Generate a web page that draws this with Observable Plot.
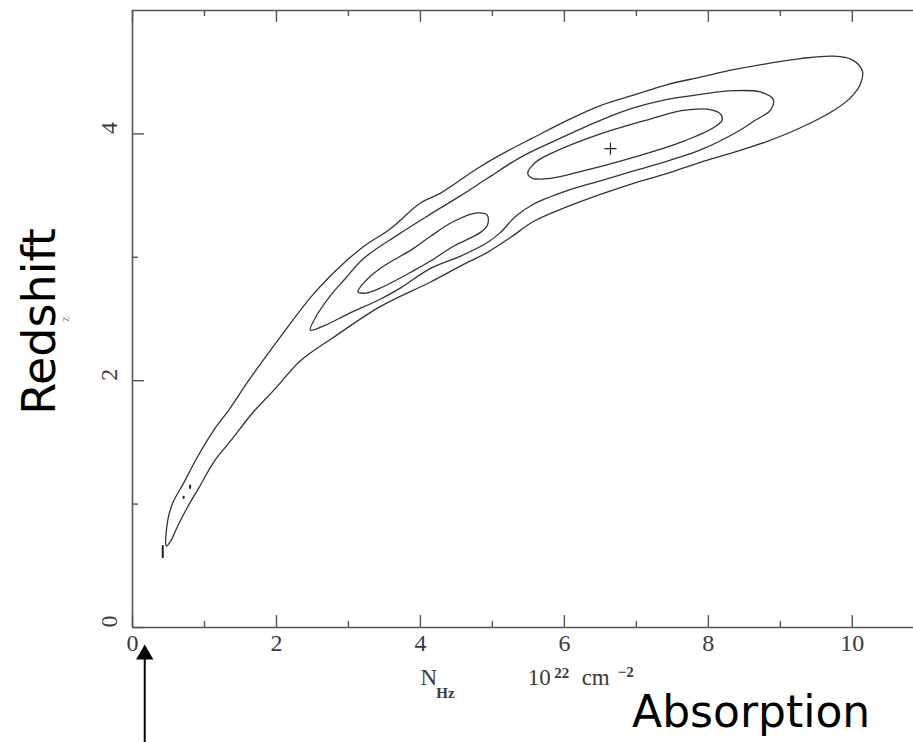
<!DOCTYPE html>
<html><head><meta charset="utf-8">
<script src="https://cdn.jsdelivr.net/npm/d3@7"></script>
<script src="https://cdn.jsdelivr.net/npm/@observablehq/plot@0.6"></script>
<style>body{margin:0;background:#fff;overflow:hidden;}</style>
</head><body><div id="chart"></div>
<script>
// ---- axis ticks ----
const xMajor = [0, 2, 4, 6, 8, 10];
const xMinor = [1, 3, 5, 7, 9];
const yMajor = [0, 2, 4];
const yMinor = [1, 3];

// ---- contour levels (N_H in 1e22 cm^-2, redshift z) ----
const outerContour = [
  [0.47,0.66],[0.49,0.87],[0.56,1.01],[0.71,1.17],[0.90,1.38],[1.13,1.60],[1.36,1.78],[1.60,1.99],
  [2.06,2.36],[2.51,2.70],[2.93,2.95],[3.24,3.10],[3.58,3.23],[4.00,3.44],[4.28,3.52],[4.79,3.72],
  [5.11,3.83],[5.57,3.97],[6.04,4.11],[6.50,4.23],[6.99,4.32],[7.43,4.40],[7.89,4.46],[8.35,4.52],
  [8.82,4.57],[9.28,4.61],[9.74,4.63],[10.00,4.60],[10.14,4.51],[10.11,4.40],[9.97,4.29],[9.74,4.19],
  [9.28,4.05],[8.82,3.94],[8.35,3.85],[7.89,3.77],[7.43,3.68],[6.96,3.60],[6.50,3.51],[6.04,3.41],
  [5.57,3.29],[5.25,3.16],[4.93,3.04],[4.56,2.93],[4.14,2.80],[3.44,2.60],[2.79,2.35],[2.33,2.16],
  [1.99,1.94],[1.67,1.74],[1.36,1.51],[1.14,1.35],[0.92,1.13],[0.75,0.96],[0.61,0.80],[0.53,0.70]
];
const middleContour = [
  [2.47,2.41],[2.56,2.53],[2.75,2.69],[2.96,2.83],[3.21,2.99],[3.68,3.18],[4.14,3.35],[4.56,3.50],
  [4.93,3.64],[5.39,3.81],[5.85,3.94],[6.50,4.11],[6.96,4.21],[7.43,4.28],[7.89,4.32],[8.35,4.35],
  [8.72,4.34],[8.90,4.28],[8.86,4.19],[8.65,4.11],[8.44,4.03],[7.89,3.87],[7.43,3.78],[6.96,3.70],
  [6.50,3.62],[6.04,3.54],[5.57,3.43],[5.32,3.33],[5.11,3.20],[4.93,3.12],[4.56,3.01],[4.14,2.91],
  [3.72,2.75],[3.44,2.66],[2.99,2.54],[2.68,2.45]
];
const innerContourLow = [
  [3.13,2.72],[3.24,2.81],[3.44,2.91],[3.90,3.07],[4.14,3.17],[4.46,3.29],[4.79,3.36],[4.93,3.34],
  [4.93,3.26],[4.83,3.20],[4.46,3.09],[4.14,2.97],[3.90,2.89],[3.44,2.75],[3.24,2.71]
];
const innerContourHigh = [
  [5.49,3.68],[5.60,3.77],[5.81,3.84],[6.50,4.00],[7.19,4.12],[7.65,4.19],[7.99,4.20],[8.17,4.16],
  [8.19,4.11],[8.07,4.05],[7.65,3.94],[6.96,3.81],[6.26,3.70],[5.81,3.64],[5.56,3.64]
];
const strayMarks = [
  {id: "a", pts: [[0.42,0.66],[0.42,0.57]]},
  {id: "b", pts: [[0.80,1.15],[0.80,1.13]]},
  {id: "c", pts: [[0.71,1.06],[0.71,1.05]]}
];
const bestFit = [{x: 6.64, y: 3.88}];

// ---- text ----
const xLabelParts = [
  {text: "N", x: 4.00, y: -0.47, size: "big"},
  {text: "Hz", x: 4.22, y: -0.575, size: "small"},
  {text: "10", x: 5.49, y: -0.47, size: "big"},
  {text: "22", x: 5.86, y: -0.41, size: "small"},
  {text: "cm", x: 6.24, y: -0.47, size: "big"},
  {text: "\u22122", x: 6.74, y: -0.40, size: "small"}
];
const bigLabels = [
  {text: "Absorption", x: 6.94, y: -0.81, rotate: 0},
  {text: "Redshift", x: -1.07, y: 2.48, rotate: -90}
];
const oldZLabel = [{text: "z", x: -0.93, y: 2.50}];
const arrowShaft = [{x1: 0.17, y1: -1.0, x2: 0.17, y2: -0.2}];
const arrowTip = [{x: 0.17, y: -0.219}];

// ---- layout ----
const W = 913, H = 742, mL = 132, mR = 0, mT = 10, mB = 115;
const xDomain = [0, 10.85], yDomain = [0, 5];
const pxPerY = (H - mT - mB) / (yDomain[1] - yDomain[0]);
const pxPerX = (W - mL - mR) / (xDomain[1] - xDomain[0]);
const majY = 12 / pxPerY, minY = 6 / pxPerY, majX = 12 / pxPerX, minX = 6 / pxPerX;

const rows = [];
[["outer", outerContour], ["middle", middleContour], ["innerLow", innerContourLow], ["innerHigh", innerContourHigh]]
  .forEach(([id, pts]) => pts.forEach(([x, y]) => rows.push({id, x, y})));
const strayRows = [];
strayMarks.forEach(s => s.pts.forEach(([x, y]) => strayRows.push({id: s.id, x, y})));

const frameColor = "#555";
const serif = "'Liberation Serif', 'DejaVu Serif', serif";
const sans = "'DejaVu Sans', 'Noto Sans', sans-serif";

const chart = Plot.plot({
  width: W, height: H,
  marginLeft: mL, marginRight: mR, marginTop: mT, marginBottom: mB,
  x: {domain: xDomain, axis: null},
  y: {domain: yDomain, axis: null},
  style: {background: "#fff", overflow: "visible"},
  marks: [
    // frame (right side lies beyond the picture)
    Plot.ruleY([yDomain[0], yDomain[1]], {stroke: frameColor, strokeWidth: 1.6}),
    Plot.ruleX([xDomain[0]], {stroke: frameColor, strokeWidth: 1.6}),
    // inward ticks
    Plot.ruleX(xMajor, {x: d => d, y1: yDomain[0], y2: yDomain[0] + majY, stroke: frameColor, strokeWidth: 1.4}),
    Plot.ruleX(xMinor, {x: d => d, y1: yDomain[0], y2: yDomain[0] + minY, stroke: frameColor, strokeWidth: 1.4}),
    Plot.ruleX(xMajor, {x: d => d, y1: yDomain[1], y2: yDomain[1] - majY, stroke: frameColor, strokeWidth: 1.4}),
    Plot.ruleX(xMinor, {x: d => d, y1: yDomain[1], y2: yDomain[1] - minY, stroke: frameColor, strokeWidth: 1.4}),
    Plot.ruleY(yMajor, {y: d => d, x1: xDomain[0], x2: xDomain[0] + majX, stroke: frameColor, strokeWidth: 1.4}),
    Plot.ruleY(yMinor, {y: d => d, x1: xDomain[0], x2: xDomain[0] + minX, stroke: frameColor, strokeWidth: 1.4}),
    // tick labels
    Plot.text(xMajor, {x: d => d, frameAnchor: "bottom", dy: 23, text: d => String(d),
      fontFamily: serif, fontSize: 24, fill: "#3a3a3a"}),
    Plot.text(yMajor, {y: d => d, frameAnchor: "left", dx: -23, rotate: -90, text: d => String(d),
      fontFamily: serif, fontSize: 24, fill: "#3a3a3a"}),
    // contours
    Plot.line(rows, {x: "x", y: "y", z: "id", curve: "catmull-rom-closed", stroke: "#333", strokeWidth: 1.3}),
    Plot.line(strayRows, {x: "x", y: "y", z: "id", stroke: "#222", strokeWidth: 2}),
    Plot.dot(bestFit, {x: "x", y: "y", symbol: "plus", r: 4, stroke: "#222", strokeWidth: 1.2}),
    // axis unit label
    Plot.text(xLabelParts.filter(d => d.size === "big"), {x: "x", y: "y", text: "text", textAnchor: "start",
      lineAnchor: "bottom", fontFamily: serif, fontSize: 23, fill: "#3a3a3a"}),
    Plot.text(xLabelParts.filter(d => d.size === "small"), {x: "x", y: "y", text: "text", textAnchor: "start",
      lineAnchor: "bottom", fontFamily: serif, fontSize: 15, fontWeight: "bold", fill: "#3a3a3a"}),
    Plot.text(oldZLabel, {x: "x", y: "y", text: "text", rotate: -90, fontFamily: serif, fontSize: 12, fill: "#888"}),
    // big annotations
    Plot.text(bigLabels.filter(d => d.rotate === 0), {x: "x", y: "y", text: "text", textAnchor: "start",
      lineAnchor: "bottom", fontFamily: sans, fontSize: 44, fill: "#000"}),
    Plot.text(bigLabels.filter(d => d.rotate !== 0), {x: "x", y: "y", text: "text", rotate: -90,
      lineAnchor: "bottom", fontFamily: sans, fontSize: 46, fill: "#000"}),
    // arrow
    Plot.link(arrowShaft, {x1: "x1", y1: "y1", x2: "x2", y2: "y2", stroke: "#000", strokeWidth: 2}),
    Plot.dot(arrowTip, {x: "x", y: "y", symbol: "triangle", r: 6.4, fill: "#000", stroke: "none"})
  ]
});
document.getElementById("chart").appendChild(chart);
</script>
</body></html>
